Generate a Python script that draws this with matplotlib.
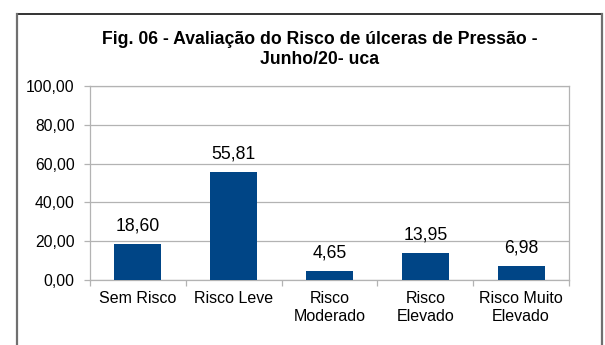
import numpy as np
import matplotlib.pyplot as plt
from matplotlib.lines import Line2D

plt.rcParams['font.family'] = ['Liberation Sans', 'DejaVu Sans']

categorias = ["Sem Risco", "Risco Leve", "Risco\nModerado", "Risco\nElevado", "Risco Muito\nElevado"]
valores = [18.60, 55.81, 4.65, 13.95, 6.98]
yticks = [0, 20, 40, 60, 80, 100]

W, H = 605, 345

def fmt(v):
    return f"{v:.2f}".replace(".", ",")

def fx(px):
    return px / W

def fy(py):
    return 1 - py / H

fig = plt.figure(figsize=(W / 100, H / 100), dpi=100)

# moldura externa do gráfico (topo escuro, laterais cinza)
fig.add_artist(Line2D([fx(16.5), fx(602)], [fy(14), fy(14)], color='#101010', lw=1.2))
fig.add_artist(Line2D([fx(16.5), fx(16.5)], [fy(14), 0], color='#707070', lw=1.6))
fig.add_artist(Line2D([fx(602), fx(602)], [fy(14), 0], color='#707070', lw=1.6))

ax = fig.add_axes([fx(90), fy(280), fx(569) - fx(90), fy(86) - fy(280)])
x = np.arange(len(categorias))
ax.bar(x, valores, width=0.49, color='#004586', zorder=3)
for xi, v in zip(x, valores):
    ax.annotate(fmt(v), (xi, v), xytext=(0, 13), textcoords='offset points',
                ha='center', va='center', fontsize=12.7)

ax.set_xlim(-0.5, len(categorias) - 0.5)
ax.set_ylim(0, 100)
ax.set_yticks(yticks)
ax.set_yticklabels([fmt(t) for t in yticks], fontsize=11.3)
ax.yaxis.grid(True, color='#b3b3b3', linewidth=0.9, zorder=0)
ax.set_xticks(np.arange(-0.5, len(categorias), 1.0))
ax.set_xticklabels([])
ax.set_xticks(x, minor=True)
ax.set_xticklabels(categorias, minor=True, fontsize=11.5, linespacing=1.2)
ax.tick_params(axis='x', which='minor', length=0, pad=8)
ax.tick_params(axis='x', which='major', length=4, width=0.9, color='#b3b3b3', direction='out')
ax.tick_params(axis='y', length=4, width=0.9, color='#b3b3b3', pad=7)
for s in ax.spines.values():
    s.set_color('#b3b3b3')
    s.set_linewidth(0.9)

fig.text(fx(320), fy(40), "Fig. 06 - Avaliação do Risco de úlceras de Pressão -",
         ha='center', va='center', fontsize=12.7, fontweight='bold')
fig.text(fx(320), fy(59), "Junho/20- uca",
         ha='center', va='center', fontsize=12.7, fontweight='bold')

fig.savefig("out.png", dpi=100)
